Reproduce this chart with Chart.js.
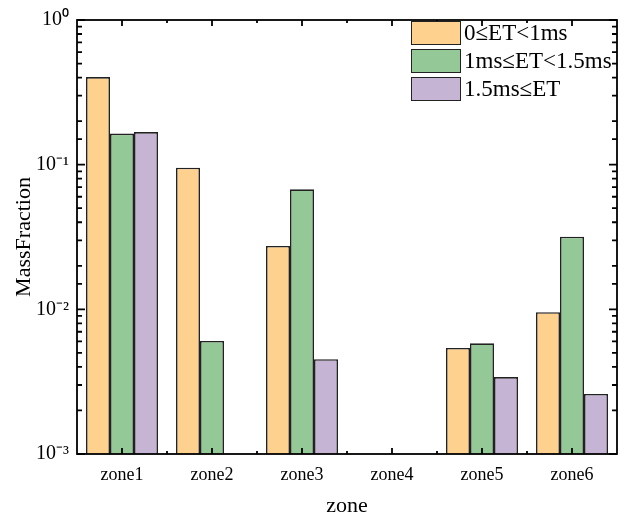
<!DOCTYPE html>
<html>
<head>
<meta charset="utf-8">
<script src="https://cdn.jsdelivr.net/npm/chart.js@4/dist/chart.umd.min.js"></script>
<style>
  html, body { margin: 0; padding: 0; background: #fff; }
  #wrap { position: relative; width: 624px; height: 519px; }
  #legend {
    position: absolute; left: 411px; top: 21px;
    font-family: "Liberation Serif", "Times New Roman", serif;
    font-size: 23px; color: #000; line-height: 24px;
  }
  #legend .row { display: flex; align-items: center; height: 24px; margin-bottom: 4px; }
  #legend .sw { box-sizing: border-box; width: 50px; height: 24px; border: 1.6px solid #222; margin-right: 3px; }
</style>
</head>
<body>
<div id="wrap">
  <canvas id="c" width="624" height="519"></canvas>
  <div id="legend"></div>
</div>
<script>
// Zones and mass fraction per ejection-time class (log scale, missing = no bar)
const zones = ['zone1', 'zone2', 'zone3', 'zone4', 'zone5', 'zone6'];
const seriesNames = ['0≤ET<1ms', '1ms≤ET<1.5ms', '1.5ms≤ET'];
const fracShort = [0.403, 0.0952, 0.0274, null, 0.00541, 0.00956];
const fracMid   = [0.164, 0.00604, 0.0675, null, 0.00582, 0.0318];
const fracLong  = [0.168, null, 0.00452, null, 0.0034, 0.0026];
const yRange = [0.001, 1];

const fills = ['#FED18F', '#95C897', '#C5B4D4'];
const edge = '#222222';
const serif = '"Liberation Serif", "Times New Roman", serif';

const SUP = { '0': '⁰', '1': '¹', '2': '²', '3': '³', '4': '⁴', '5': '⁵', '6': '⁶', '7': '⁷', '8': '⁸', '9': '⁹', '-': '⁻' };
const powLabel = e => '10' + String(e).split('').map(ch => SUP[ch]).join('');
const isDecade = v => { const l = Math.log10(v); return Math.abs(l - Math.round(l)) < 1e-6; };

// Closed frame with inward ticks on all four sides
const framePlugin = {
  id: 'frame',
  afterDatasetsDraw(chart) {
    const { ctx, chartArea: a, scales: { x, y } } = chart;
    ctx.save();
    ctx.strokeStyle = '#000';
    ctx.lineWidth = 1.8;
    ctx.beginPath();
    y.ticks.forEach(t => {
      const p = y.getPixelForValue(t.value);
      const len = isDecade(t.value) ? 8 : 5;
      ctx.moveTo(a.left, p); ctx.lineTo(a.left + len, p);
      ctx.moveTo(a.right, p); ctx.lineTo(a.right - len, p);
    });
    zones.forEach((z, i) => {
      const c = x.getPixelForValue(i);
      ctx.moveTo(c, a.bottom); ctx.lineTo(c, a.bottom - 6);
      ctx.moveTo(c, a.top); ctx.lineTo(c, a.top + 6);
      if (i < zones.length - 1) {
        const b = (c + x.getPixelForValue(i + 1)) / 2;
        ctx.moveTo(b, a.bottom); ctx.lineTo(b, a.bottom - 3);
        ctx.moveTo(b, a.top); ctx.lineTo(b, a.top + 3);
      }
    });
    ctx.stroke();
    ctx.strokeRect(a.left, a.top, a.width, a.height);
    ctx.restore();
  }
};

const chart = new Chart(document.getElementById('c'), {
  type: 'bar',
  data: {
    labels: zones,
    datasets: [fracShort, fracMid, fracLong].map((d, i) => ({
      label: seriesNames[i],
      data: d,
      backgroundColor: fills[i],
      borderColor: edge,
      borderWidth: 1.6,
      borderSkipped: 'start',
      categoryPercentage: 0.8,
      barPercentage: 1.0
    }))
  },
  options: {
    responsive: false,
    animation: false,
    devicePixelRatio: 1,
    layout: { padding: { top: 17, right: 7, left: 0, bottom: 0 } },
    plugins: { legend: { display: false }, tooltip: { enabled: false } },
    scales: {
      x: {
        grid: { display: false, drawTicks: false },
        border: { display: false },
        ticks: { font: { family: serif, size: 18 }, color: '#000', padding: 10 },
        title: { display: true, text: 'zone', font: { family: serif, size: 22 }, color: '#000', padding: { top: 0, bottom: 0 } },
        afterFit: s => { s.height = 65; }
      },
      y: {
        type: 'logarithmic',
        min: yRange[0],
        max: yRange[1],
        grid: { display: false, drawTicks: false },
        border: { display: false },
        ticks: {
          autoSkip: false,
          font: { family: serif, size: 20 },
          color: '#000',
          padding: 8,
          callback: v => isDecade(v) ? powLabel(Math.round(Math.log10(v))) : ''
        },
        title: { display: true, text: 'MassFraction', font: { family: serif, size: 22 }, color: '#000', padding: { top: 11, bottom: 0 } },
        afterFit: s => { s.width = 77; }
      }
    }
  },
  plugins: [framePlugin]
});

// Legend built from the chart's datasets
const legendEl = document.getElementById('legend');
chart.data.datasets.forEach(ds => {
  const row = document.createElement('div');
  row.className = 'row';
  const sw = document.createElement('span');
  sw.className = 'sw';
  sw.style.background = ds.backgroundColor;
  const tx = document.createElement('span');
  tx.textContent = ds.label;
  row.appendChild(sw);
  row.appendChild(tx);
  legendEl.appendChild(row);
});
</script>
</body>
</html>
